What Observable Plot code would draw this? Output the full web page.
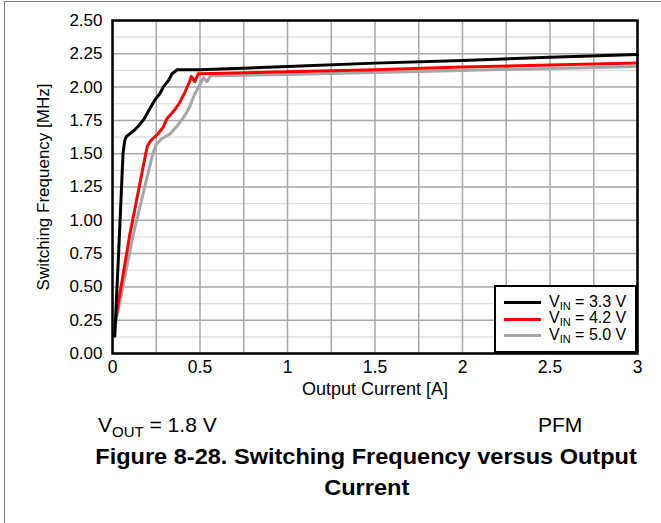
<!DOCTYPE html>
<html>
<head>
<meta charset="utf-8">
<script src="https://cdn.jsdelivr.net/npm/d3@7"></script>
<script src="https://cdn.jsdelivr.net/npm/@observablehq/plot@0.6"></script>
<style>
  html, body { margin: 0; padding: 0; background: #fff; }
  #wrap { position: relative; width: 661px; height: 523px; overflow: hidden; font-family: "Liberation Sans", Arial, sans-serif; color: #000; }
  #border { position: absolute; left: 4px; top: 1px; width: 660px; height: 530px; border-left: 1px solid #7a7a7a; border-top: 1px solid #7a7a7a; }
  #chart { position: absolute; left: 0; top: 0; }
  .note { position: absolute; font-size: 21px; line-height: 24px; white-space: nowrap; }
  .note sub { font-size: 15px; vertical-align: -5px; line-height: 0; }
  #caption { position: absolute; left: 36px; width: 661px; top: 441px; text-align: center; font-weight: bold; font-size: 22px; line-height: 31px; }
  #caption span { display: inline-block; transform: scaleX(1.07); }
  #legend { position: absolute; left: 494px; top: 285px; width: 139px; height: 64px; border: 2px solid #000; background: #fff; }
  .leg { position: absolute; left: 8px; font-size: 16px; white-space: nowrap; }
  .leg i { display: inline-block; width: 37px; height: 0; border-top: 3px solid; vertical-align: middle; margin-right: 8px; }
  .leg sub { font-size: 11px; vertical-align: -3px; }
</style>
</head>
<body>
<div id="wrap">
  <div id="border"></div>
  <div id="chart"></div>
  <div id="legend"></div>
  <div class="note" style="left:98px; top:413px;">V<sub>OUT</sub> = 1.8 V</div>
  <div class="note" style="left:538px; top:413px;">PFM</div>
  <div id="caption"><span>Figure 8-28. Switching Frequency versus Output</span><br><span>Current</span></div>
</div>
<script>
// ---- Data ----
const seriesNames = ["VIN = 3.3 V", "VIN = 4.2 V", "VIN = 5.0 V"];
const seriesVin = ["3.3", "4.2", "5.0"];
const seriesColors = ["#000000", "#ff0000", "#a6a6a6"];

const current33 = [0.013, 0.04, 0.06, 0.07, 0.08, 0.12, 0.15, 0.18, 0.21, 0.24, 0.27, 0.29, 0.32, 0.34, 0.37, 0.5, 1.0, 1.5, 2.0, 2.5, 3.0];
const freq33    = [0.13, 0.9, 1.5, 1.6, 1.63, 1.67, 1.71, 1.76, 1.83, 1.90, 1.95, 2.0, 2.05, 2.10, 2.13, 2.13, 2.155, 2.18, 2.20, 2.225, 2.245];

const current42 = [0.013, 0.10, 0.19, 0.20, 0.22, 0.26, 0.29, 0.31, 0.35, 0.38, 0.41, 0.44, 0.45, 0.47, 0.49, 0.5, 1.0, 1.5, 2.0, 2.5, 3.0];
const freq42    = [0.22, 0.9, 1.5, 1.56, 1.6, 1.65, 1.7, 1.76, 1.82, 1.875, 1.95, 2.04, 2.08, 2.04, 2.10, 2.10, 2.115, 2.13, 2.15, 2.165, 2.18];

const current50 = [0.013, 0.12, 0.23, 0.25, 0.28, 0.33, 0.37, 0.41, 0.44, 0.47, 0.50, 0.52, 0.54, 0.56, 0.6, 1.0, 1.5, 2.0, 2.5, 3.0];
const freq50    = [0.2, 0.9, 1.5, 1.57, 1.61, 1.65, 1.71, 1.78, 1.85, 1.95, 2.02, 2.07, 2.04, 2.085, 2.085, 2.095, 2.11, 2.125, 2.14, 2.155];

const xTicks = [0, 0.5, 1, 1.5, 2, 2.5, 3];
const xTickLabels = ["0", "0.5", "1", "1.5", "2", "2.5", "3"];
const yTicks = [0, 0.25, 0.5, 0.75, 1.0, 1.25, 1.5, 1.75, 2.0, 2.25, 2.5];
const yTickLabels = ["0.00", "0.25", "0.50", "0.75", "1.00", "1.25", "1.50", "1.75", "2.00", "2.25", "2.50"];
const xGrid = [0, 0.25, 0.5, 0.75, 1, 1.25, 1.5, 1.75, 2, 2.25, 2.5, 2.75, 3];
const yMinorGrid = [0.125, 0.375, 0.625, 0.875, 1.125, 1.375, 1.625, 1.875, 2.125, 2.375];
const xLabel = "Output Current [A]";
const yLabel = "Switching Frequency [MHz]";

// ---- Build table ----
const toRows = (xs, ys, s) => xs.map((x, i) => ({current: x, freq: ys[i], series: s}));
const rows = [
  ...toRows(current50, freq50, seriesNames[2]),
  ...toRows(current42, freq42, seriesNames[1]),
  ...toRows(current33, freq33, seriesNames[0])
];

const chart = Plot.plot({
  width: 661,
  height: 405,
  marginLeft: 112,
  marginRight: 24,
  marginTop: 20,
  marginBottom: 52,
  style: {fontFamily: "'Liberation Sans', Arial, sans-serif", fontSize: "17px", color: "#000", background: "transparent"},
  x: {domain: [0, 3]},
  y: {domain: [0, 2.5]},
  color: {domain: seriesNames, range: seriesColors},
  marks: [
    Plot.ruleY(yMinorGrid, {stroke: "#dcdcdc", strokeWidth: 1.2}),
    Plot.ruleX(xGrid, {stroke: "#a8a8a8", strokeWidth: 1.5}),
    Plot.ruleY(yTicks, {stroke: "#a8a8a8", strokeWidth: 1.5}),
    Plot.line(rows, {x: "current", y: "freq", z: "series", stroke: "series", strokeWidth: 3, curve: "linear"}),
    Plot.frame({stroke: "#000", strokeWidth: 2.5}),
    Plot.axisX(xTicks, {tickSize: 0, tickPadding: 7, tickFormat: (d, i) => xTickLabels[i], label: null, fontSize: 17.5}),
    Plot.axisY(yTicks, {tickSize: 0, tickPadding: 10, tickFormat: (d, i) => yTickLabels[i], label: null, fontSize: 17}),
    Plot.text([xLabel], {frameAnchor: "bottom", lineAnchor: "middle", dy: 36, fontSize: 18}),
    Plot.text([yLabel], {frameAnchor: "left", textAnchor: "middle", lineAnchor: "middle", rotate: -90, dx: -69, fontSize: 17})
  ]
});
document.getElementById("chart").appendChild(chart);

// ---- Legend built from series arrays ----
const legend = document.getElementById("legend");
seriesNames.forEach((name, i) => {
  const d = document.createElement("div");
  d.className = "leg";
  d.style.top = (6 + i * 16.3) + "px";
  d.innerHTML = `<i style="border-color:${seriesColors[i]}"></i>V<sub>IN</sub> = ${seriesVin[i]} V`;
  legend.appendChild(d);
});
</script>
</body>
</html>
